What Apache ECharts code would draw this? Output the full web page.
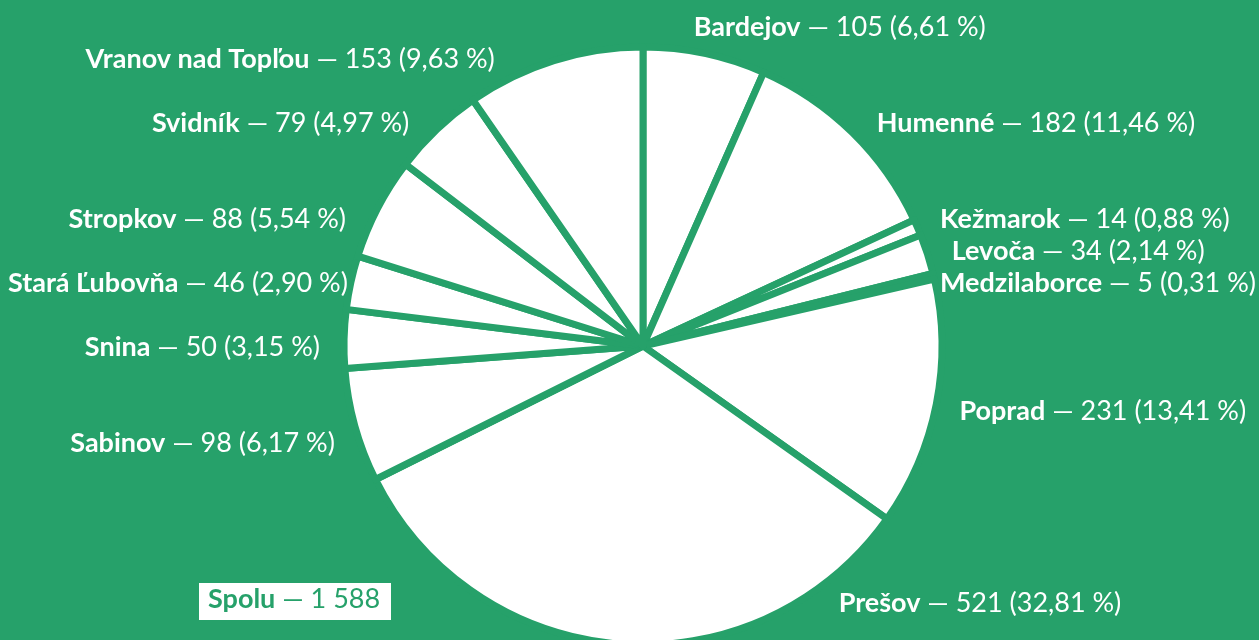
<!DOCTYPE html>
<html>
<head>
<meta charset="utf-8">
<style>
  html, body { margin: 0; padding: 0; background: #26a16a; }
  #chart { width: 1259px; height: 640px; }
</style>
<script src="https://cdn.jsdelivr.net/npm/echarts@6/dist/echarts.min.js"></script>
</head>
<body>
<div id="chart"></div>
<script>
// okresy v poradí od 12 hodín v smere hodinových ručičiek
const districts = ['Bardejov', 'Humenné', 'Kežmarok', 'Levoča', 'Medzilaborce', 'Poprad', 'Prešov',
  'Sabinov', 'Snina', 'Stará Ľubovňa', 'Stropkov', 'Svidník', 'Vranov nad Topľou'];
const counts = [105, 182, 14, 34, 5, 231, 521, 98, 50, 46, 88, 79, 153];
const percents = [6.61, 11.46, 0.88, 2.14, 0.31, 13.41, 32.81, 6.17, 3.15, 2.90, 5.54, 4.97, 9.63];
const total = 1588;

const green = '#26a16a';
const W = 1259, H = 640;
const cx = 643, cy = 346, radius = 299;
const labelDist = 20;      // vzdialenosť popisu od okraja koláča
const slotH = 32;          // výška riadku popisu
const labelNudge = 8;
const fontSize = 27;

function fmtNum(n) {
  return String(n).replace(/\B(?=(\d{3})+(?!\d))/g, ' ');
}

// rozloženie popiskov do "slotov" (podobne ako starší highcharts)
function layoutLabels() {
  let sum = percents.reduce(function (a, b) { return a + b; }, 0);
  let acc = 0;
  let items = percents.map(function (p, i) {
    let mid = (acc + p / 2) / sum * 2 * Math.PI;
    acc += p;
    let rl = radius + labelDist;
    return {
      i: i,
      right: mid < Math.PI * 1.06,
      y: cy - rl * Math.cos(mid) + labelNudge
    };
  });
  let origin = cy - radius - labelDist;
  let maxSlot = Math.floor((H - slotH - origin) / slotH);
  let pos = [];
  [true, false].forEach(function (side) {
    let used = {};
    items.filter(function (it) { return it.right === side; })
      .sort(function (a, b) { return counts[b.i] - counts[a.i]; })
      .forEach(function (it) {
        let k = Math.round((it.y - origin) / slotH);
        k = Math.max(0, Math.min(maxSlot, k));
        let best = null;
        for (let d = 0; d <= maxSlot; d++) {
          if (k + d <= maxSlot && !used[k + d]) { best = k + d; break; }
          if (k - d >= 0 && !used[k - d]) { best = k - d; break; }
        }
        used[best] = true;
        let y = origin + best * slotH;
        let rl = radius + labelDist + 4;
        let dx = Math.sqrt(Math.max(0, rl * rl - (y - cy) * (y - cy)));
        pos[it.i] = side
          ? { x: cx + dx, y: y, align: 'left', verticalAlign: 'middle' }
          : { x: cx - dx, y: y, align: 'right', verticalAlign: 'middle' };
      });
  });
  return pos;
}

const labelPos = layoutLabels();

let myChart = echarts.init(document.getElementById('chart'));

let option = {
  backgroundColor: green,
  textStyle: { fontFamily: 'Lato' },
  graphic: [{
    type: 'group',
    left: 199,
    top: 583,
    children: [
      { type: 'rect', shape: { x: 0, y: 0, width: 192, height: 37 }, style: { fill: '#fff' } },
      {
        type: 'text', left: 9, top: 3,
        style: {
          text: '{b|Spolu} — ' + fmtNum(total),
          fill: green, font: fontSize + 'px Lato',
          rich: { b: { fontWeight: 'bold', fontSize: fontSize, fill: green, fontFamily: 'Lato' } }
        }
      }
    ]
  }],
  series: [{
    type: 'pie',
    center: [cx, cy],
    radius: radius,
    startAngle: 90,
    clockwise: true,
    animation: false,
    itemStyle: { color: '#fff', borderColor: green, borderWidth: 7 },
    emphasis: { disabled: true },
    label: {
      show: true,
      position: 'outside',
      alignTo: 'none',
      overflow: 'none',
      width: 500,
      color: '#fff',
      fontSize: fontSize,
      fontFamily: 'Lato',
      formatter: function (p) {
        let i = p.dataIndex;
        return '{b|' + p.name + '} — ' + counts[i] + ' (' + percents[i].toFixed(2).replace('.', ',') + ' %)';
      },
      rich: { b: { fontWeight: 'bold', fontSize: fontSize, color: '#fff', fontFamily: 'Lato' } }
    },
    labelLine: { show: false },
    labelLayout: function (params) {
      let p = Object.assign({}, labelPos[params.dataIndex]);
      let w = params.labelRect.width;
      // nech popis nevyjde mimo plátna
      if (p.align === 'left') p.x = Math.min(p.x, W - w - 3);
      else p.x = Math.max(p.x, w + 8);
      return p;
    },
    data: districts.map(function (d, i) { return { name: d, value: percents[i] }; })
  }]
};

myChart.setOption(option);
</script>
</body>
</html>
